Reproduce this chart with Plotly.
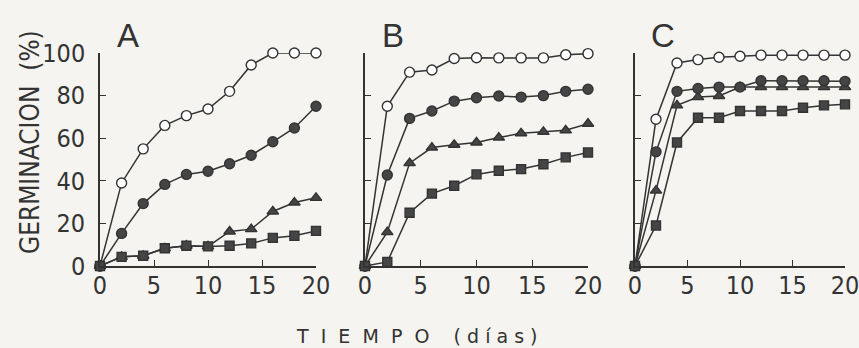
import plotly.graph_objects as go

days = [0, 2, 4, 6, 8, 10, 12, 14, 16, 18, 20]

A_open = [0, 39, 55, 66, 70.6, 73.7, 82, 94.4, 100, 100, 100]
A_filled = [0, 15.3, 29.3, 38.3, 43, 44.5, 48, 52, 58.3, 64.8, 75]
A_tri = [0, 4.3, 4.8, 8.3, 9.5, 9.2, 16.2, 17.3, 25.6, 29.8, 32]
A_sq = [0, 4.3, 4.8, 8.3, 9.5, 9.2, 9.5, 10.6, 13.2, 14.2, 16.5]

B_open = [0, 75, 91, 92, 97.4, 97.8, 97.7, 97.7, 97.7, 99.2, 99.7]
B_filled = [0, 42.7, 69.3, 72.8, 77.4, 79, 79.8, 79.3, 80, 82, 83]
B_tri = [0, 15.9, 48.3, 55.6, 56.9, 58, 60.3, 62.3, 63, 63.7, 66.8]
B_sq = [0, 1.9, 25, 34, 37.7, 43, 44.7, 45.5, 47.8, 51, 53.3]

C_open = [0, 68.9, 95.3, 96.9, 98, 98.5, 99, 99, 99, 99, 99]
C_filled = [0, 53.6, 82, 83.3, 84, 84, 87, 87, 87, 87, 86.7]
C_tri = [0, 35.4, 75.4, 79.3, 79.8, 84, 84, 84, 84, 84, 84]
C_sq = [0, 19, 58, 69.6, 69.6, 72.8, 72.8, 72.8, 74.3, 75.4, 75.9]

panel_labels = ["A", "B", "C"]
x_ticks = [0, 5, 10, 15, 20]
y_ticks = [0, 20, 40, 60, 80, 100]

INK = "#333333"
BG = "#f5f4f0"
FONT = "Liberation Sans Narrow, DejaVu Sans Condensed, Arial Narrow, sans-serif"

W, H = 859, 348
fig = go.Figure()

panels = [
    (A_open, A_filled, A_tri, A_sq),
    (B_open, B_filled, B_tri, B_sq),
    (C_open, C_filled, C_tri, C_sq),
]
xdoms_px = [(100, 316), (365, 588), (635, 845)]
ydom = [(H - 266) / H, (H - 53) / H]

for i, (op, fi, tr, sq) in enumerate(panels):
    n = "" if i == 0 else str(i + 1)
    xa, ya = "x" + n, "y" + n
    series = [
        (op, "circle", "white", 10),
        (fi, "circle", "#454545", 10),
        (tr, "triangle-up", "#454545", 10),
        (sq, "square", "#454545", 9),
    ]
    order = [0, 2, 1, 3]
    for k in order:
        vals, sym, fill, sz = series[k]
        fig.add_trace(go.Scatter(
            x=days, y=vals, xaxis=xa, yaxis=ya, mode="lines+markers",
            line=dict(color=INK, width=1.5),
            marker=dict(symbol=sym, size=sz, color=fill,
                        line=dict(color=INK, width=1.4)),
            cliponaxis=False, showlegend=False, hoverinfo="skip",
        ))
    x0, x1 = xdoms_px[i]
    fig.layout["xaxis" + n] = dict(
        domain=[x0 / W, x1 / W], range=[0, 20], anchor=ya,
        tickvals=x_ticks, ticks="inside", ticklen=6, tickwidth=1.4,
        tickcolor=INK, showline=True, linecolor=INK, linewidth=1.6,
        showgrid=False, zeroline=False, automargin=False,
        ticklabelstandoff=-4, ticklabeloverflow="allow",
        tickfont=dict(family=FONT, size=25, color=INK),
    )
    fig.layout["yaxis" + n] = dict(
        domain=ydom, range=[0, 100], anchor=xa,
        tickvals=y_ticks, ticks="inside", ticklen=6, tickwidth=1.4,
        tickcolor=INK, showline=True, linecolor=INK, linewidth=1.6,
        showgrid=False, zeroline=False, showticklabels=(i == 0),
        ticklabelstandoff=8, automargin=False, ticklabeloverflow="allow",
        tickfont=dict(family=FONT, size=25, color=INK),
    )
    fig.add_annotation(
        text=panel_labels[i], xref="paper", yref="paper",
        x=(x0 + 28) / W, y=(H - 36) / H, showarrow=False,
        font=dict(family="Liberation Sans, Arial, sans-serif", size=33, color=INK),
        xanchor="center", yanchor="middle",
    )

fig.add_annotation(
    text="GERMINACION  (%)", xref="paper", yref="paper",
    x=30 / W, y=(H - 142) / H, textangle=-90, showarrow=False,
    font=dict(family=FONT, size=26, color=INK),
    xanchor="center", yanchor="middle",
)
fig.add_annotation(
    text="T  I  E  M  P  O    ( d í a s )", xref="paper", yref="paper",
    x=416 / W, y=(H - 336) / H, showarrow=False,
    font=dict(family="DejaVu Sans, sans-serif", size=19, color=INK),
    xanchor="center", yanchor="middle",
)

fig.update_layout(
    template="none",
    width=W, height=H, margin=dict(l=0, r=0, t=0, b=0, autoexpand=False),
    paper_bgcolor=BG, plot_bgcolor=BG,
)

fig.write_html(
    "out.html",
    config={"displayModeBar": False},
    post_script="document.body.style.margin='0';document.body.style.overflow='hidden';",
)
